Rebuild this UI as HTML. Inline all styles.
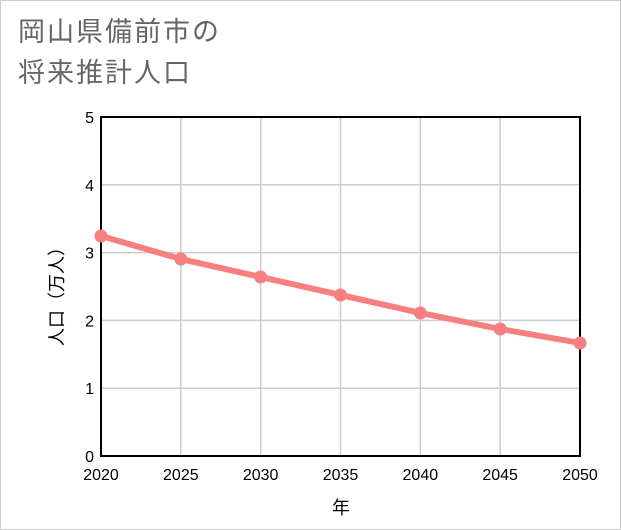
<!DOCTYPE html>
<html><head><meta charset="utf-8"><style>
html,body{margin:0;padding:0;background:#fff}
#wrap{position:relative;width:619px;height:528px;border:1px solid #ccc;background:#fff;overflow:hidden}
.title{position:absolute;left:17px;font-family:"Liberation Sans","Noto Sans CJK JP",sans-serif;font-size:27px;color:#666;letter-spacing:2px;line-height:1}
</style></head><body>
<div id="wrap">
<div class="title" style="top:18px">岡山県備前市の</div>
<div class="title" style="top:59px">将来推計人口</div>
<svg id="chart" width="621" height="530" style="position:absolute;left:-1px;top:-1px"></svg>
</div>
<script>
const years=[2020,2025,2030,2035,2040,2045,2050];
const population=[3.245,2.905,2.64,2.375,2.11,1.873,1.667];
const yTicks=[0,1,2,3,4,5];
const xTicks=[2020,2025,2030,2035,2040,2045,2050];
const NS="http://www.w3.org/2000/svg";
const svg=document.getElementById('chart');
const L=101,R=580,T=117,B=456;
const xs=v=>L+(v-2020)/30*(R-L);
const ys=v=>B-v/5*(B-T);
function mk(t,a){const e=document.createElementNS(NS,t);for(const k in a)e.setAttribute(k,a[k]);svg.appendChild(e);return e;}
const font='"Liberation Sans","Noto Sans CJK JP",sans-serif';
yTicks.forEach(v=>{
 const g=mk('line',{x1:L,x2:R,y1:ys(v),y2:ys(v),stroke:'#ccc','stroke-width':1.5});
 
 
 const t=mk('text',{x:L-7,y:ys(v)+6,'text-anchor':'end','font-size':16,'font-family':font,fill:'#000'});
 t.textContent=v;
 
 
});
xTicks.forEach(v=>{
 const g=mk('line',{x1:xs(v),x2:xs(v),y1:T,y2:B,stroke:'#ccc','stroke-width':1.5});
 
 
 const t=mk('text',{x:xs(v),y:B+24,'text-anchor':'middle','font-size':16,'font-family':font,fill:'#000'});
 t.textContent=v;
 
 
});
const frame=mk('rect',{x:L,y:T,width:R-L,height:B-T,fill:'none',stroke:'#000','stroke-width':2});


const line=mk('polyline',{points:years.map((y,i)=>xs(y)+','+ys(population[i])).join(' '),fill:'none',stroke:'#f77f7f','stroke-width':6,'stroke-linejoin':'round'});


years.forEach((y,i)=>{
 const c=mk('circle',{cx:xs(y),cy:ys(population[i]),r:6.5,fill:'#f77f7f'});
 
 
});
const xt=mk('text',{x:341,y:514,'text-anchor':'middle','font-size':18,'font-family':font,fill:'#000'});
xt.textContent='年';


const yt=mk('text',{x:0,y:0,'text-anchor':'middle','font-size':18,'font-family':font,fill:'#000',transform:'translate(63,292) rotate(-90)'});
yt.textContent='人口（万人）';


</script>
</body></html>
